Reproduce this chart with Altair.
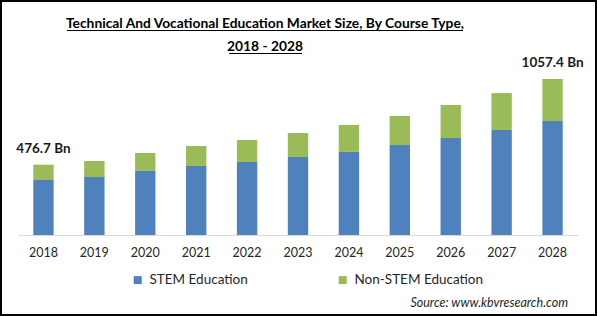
import altair as alt
import pandas as pd

years = ["2018", "2019", "2020", "2021", "2022", "2023", "2024", "2025", "2026", "2027", "2028"]
stem = [373.0, 393.0, 434.0, 468.0, 495.0, 529.0, 563.0, 610.0, 657.0, 712.0, 773.0]
non_stem = [103.7, 108.6, 122.0, 135.0, 149.0, 162.0, 183.0, 197.0, 224.0, 250.0, 284.4]
series = ["STEM Education", "Non-STEM Education"]
colors = ["#4F81BD", "#9BBB59"]
label_years = ["2018", "2028"]
title_lines = ["Technical And Vocational Education Market Size, By Course Type,", "2018 - 2028"]
source_text = "Source:  www.kbvresearch.com"

rows = []
for i, y in enumerate(years):
    rows.append({"year": y, "series": series[0], "value": stem[i], "ord": 0})
    rows.append({"year": y, "series": series[1], "value": non_stem[i], "ord": 1})
df = pd.DataFrame(rows)

totals = {y: round(stem[i] + non_stem[i], 1) for i, y in enumerate(years)}
lab = pd.DataFrame({"year": label_years,
                    "total": [totals[y] for y in label_years],
                    "text": [f"{totals[y]:.1f}  Bn" for y in label_years]})

FONT = "Lato"

xscale = alt.Scale(domain=years, paddingInner=0.6, paddingOuter=0.3)
yscale = alt.Scale(domain=[0, 1186])

bars = alt.Chart(df).mark_bar().encode(
    x=alt.X("year:N", scale=xscale, sort=years,
            axis=alt.Axis(title=None, labelAngle=0, ticks=False, domainColor="#d9d9d9",
                          labelFont=FONT, labelFontSize=12.5, labelColor="#262626",
                          labelPadding=11, grid=False)),
    y=alt.Y("value:Q", stack="zero", scale=yscale, axis=None),
    color=alt.Color("series:N", scale=alt.Scale(domain=series, range=colors),
                    legend=alt.Legend(title=None, orient="none", legendX=113, legendY=213,
                                      direction="horizontal", symbolType="square",
                                      symbolSize=64, symbolStrokeWidth=0,
                                      labelFont=FONT, labelFontSize=13.5, labelColor="#262626",
                                      columnPadding=88, labelOffset=5)),
    order=alt.Order("ord:Q"),
)

labels = alt.Chart(lab).mark_text(font=FONT, fontSize=13.5, fontWeight="bold",
                                  baseline="bottom", dy=-9, color="#1a1a1a").encode(
    x=alt.X("year:N", scale=xscale, sort=years),
    y=alt.Y("total:Q", scale=yscale),
    text="text:N",
)

title1 = alt.Chart(pd.DataFrame({"t": [title_lines[0]]})).mark_text(
    font=FONT, fontSize=13.8, fontWeight="bold", color="#000000", align="center",
    baseline="alphabetic").encode(text="t:N", x=alt.value(247), y=alt.value(-32))
title2 = alt.Chart(pd.DataFrame({"t": [title_lines[1]]})).mark_text(
    font=FONT, fontSize=13.8, fontWeight="bold", color="#000000", align="center",
    baseline="alphabetic").encode(text="t:N", x=alt.value(247), y=alt.value(-9))
ul1 = alt.Chart(pd.DataFrame({"a": [0]})).mark_rule(color="#000000", strokeWidth=1.2).encode(
    x=alt.value(49), x2=alt.value(445), y=alt.value(-29.5))
ul2 = alt.Chart(pd.DataFrame({"a": [0]})).mark_rule(color="#000000", strokeWidth=1.2).encode(
    x=alt.value(211), x2=alt.value(284), y=alt.value(-6.5))

source = alt.Chart(pd.DataFrame({"t": [source_text]})).mark_text(
    font=FONT, fontSize=12.5, fontStyle="italic", color="#262626", align="right",
    baseline="middle").encode(text="t:N", x=alt.value(550), y=alt.value(243))

border = alt.Chart(pd.DataFrame({"a": [0]})).mark_rect(
    filled=False, stroke="#000000", strokeWidth=2).encode(
    x=alt.value(-17), x2=alt.value(578), y=alt.value(-59), y2=alt.value(255))

chart = alt.layer(bars, labels, title1, title2, ul1, ul2, source, border).properties(
    width=560, height=175,
    padding={"left": 18, "top": 60, "right": 19, "bottom": 81},
    autosize=alt.AutoSizeParams(type="none"),
    background="#ffffff",
).configure_view(stroke="transparent")

chart.save("out.html", embed_options={"renderer": "svg", "actions": False})
